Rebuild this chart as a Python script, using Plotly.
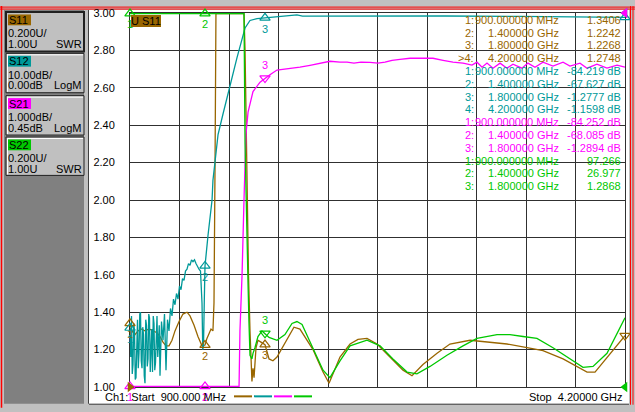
import numpy as np
import plotly.graph_objects as go

# Ch1 sweep and graticule (S11 active: 0.200U/div, ref 1.00U on the bottom line)
f_start, f_stop = 0.9, 4.2          # GHz
swr_div, swr_ref = 0.200, 1.00
n_div = 10
s12_div, s12_ref = 10.00, 0.00      # LogM, dB/div, ref value on the top line
s21_div, s21_ref = 1.000, 0.45

# S11 (SWR)
s11_f = [0.900, 0.913, 0.933, 0.953, 0.973, 1.000, 1.027, 1.053, 1.080, 1.100,
         1.120, 1.140, 1.160, 1.180, 1.200, 1.227, 1.253, 1.280, 1.300, 1.327,
         1.353, 1.380, 1.400, 1.413, 1.427, 1.440, 1.453, 1.460, 1.467, 1.473,
         1.500, 1.600, 1.660, 1.667, 1.680, 1.690, 1.700, 1.707, 1.713, 1.720,
         1.727, 1.740, 1.753, 1.773, 1.800, 1.827, 1.853, 1.880, 1.927, 1.993,
         2.033, 2.120, 2.153, 2.187, 2.227, 2.260, 2.300, 2.367, 2.420, 2.480,
         2.547, 2.633, 2.720, 2.780, 2.853, 2.947, 3.033, 3.167, 3.300, 3.413,
         3.547, 3.653, 3.787, 3.880, 3.947, 4.000, 4.100, 4.200]
s11_swr = [1.3406, 1.30, 1.28, 1.30, 1.31, 1.30, 1.31, 1.30, 1.29, 1.27,
           1.24, 1.22, 1.22, 1.25, 1.30, 1.35, 1.39, 1.40, 1.38, 1.33,
           1.27, 1.22, 1.2242, 1.26, 1.29, 1.31, 1.30, 1.45, 2.20, 3.50,
           5.00, 8.00, 6.00, 2.80, 2.00, 1.60, 1.30, 1.12, 1.03, 1.10,
           1.05, 1.21, 1.25, 1.24, 1.2268, 1.15, 1.14, 1.16, 1.23, 1.32,
           1.31, 1.20, 1.14, 1.08, 1.02, 1.08, 1.16, 1.23, 1.255, 1.26,
           1.23, 1.16, 1.09, 1.06, 1.12, 1.18, 1.23, 1.25, 1.24, 1.23,
           1.21, 1.195, 1.15, 1.11, 1.08, 1.08, 1.18, 1.2748]

# S12 (dB)
s12_f = [0.90, 0.905, 0.91, 0.915, 0.92, 0.925, 0.93, 0.935, 0.94, 0.945,
         0.95, 0.955, 0.96, 0.965, 0.97, 0.975, 0.98, 0.985, 0.99, 0.995,
         1.00, 1.005, 1.01, 1.015, 1.02, 1.025, 1.03, 1.035, 1.04, 1.045,
         1.05, 1.055, 1.06, 1.065, 1.07, 1.075, 1.08, 1.085, 1.09, 1.095,
         1.10, 1.11, 1.12, 1.13, 1.14, 1.15, 1.16, 1.17, 1.18, 1.19,
         1.20, 1.21, 1.22, 1.23, 1.24, 1.25, 1.26, 1.27, 1.28, 1.29,
         1.30, 1.31, 1.32, 1.33, 1.34, 1.35, 1.36, 1.37,
         1.38, 1.385, 1.39, 1.395, 1.40,
         1.42, 1.433, 1.447, 1.453, 1.467, 1.48, 1.487,
         1.52, 1.567, 1.613, 1.647, 1.667, 1.70, 1.747, 1.80,
         1.90, 1.967, 2.013, 2.05, 2.5, 3.0, 3.5, 4.0, 4.2]
s12_db = [-84.219, -92.0, -81.0, -96.5, -94.0, -83.0, -85.0, -98.0, -97.5, -82.5,
          -82.0, -95.0, -91.0, -80.5, -80.0, -93.0, -95.0, -84.0, -86.0, -97.0,
          -99.0, -82.0, -83.5, -94.5, -92.5, -80.5, -81.5, -96.0, -90.0, -84.5,
          -96.0, -81.0, -83.0, -95.5, -93.5, -82.0, -81.0, -92.0, -89.0, -83.5,
          -97.0, -82.5, -87.5, -80.5, -95.5, -82.0, -85.0, -79.0, -81.0, -76.5,
          -78.0, -75.0, -76.5, -73.0, -74.0, -71.0, -71.5, -69.0, -68.5, -67.0,
          -67.5, -66.0, -66.5, -66.0, -67.0, -68.0, -68.5, -69.0,
          -77.5, -90.0, -89.0, -77.5, -67.627,
          -59.5, -54.25, -50.0, -44.75, -40.25, -35.0, -32.5,
          -27.0, -19.2, -12.0, -7.0, -4.0, -2.0, -1.5, -1.2777,
          -1.0, -0.75, -0.5, -0.85, -0.75, -0.8, -0.9, -1.0, -1.1598]

# S21 (dB)
s21_f = [0.90, 1.00, 1.10, 1.20, 1.30, 1.40, 1.50, 1.58, 1.62, 1.627,
         1.633, 1.647, 1.66, 1.667, 1.673, 1.687, 1.72, 1.767, 1.80, 1.833,
         1.88, 1.933, 1.987, 2.033, 2.10, 2.167, 2.233, 2.30, 2.347, 2.393,
         2.44, 2.50, 2.553, 2.60, 2.647, 2.70, 2.767, 2.833, 2.92, 2.987,
         3.053, 3.12, 3.18, 3.213, 3.247, 3.28, 3.32, 3.367, 3.413, 3.453,
         3.513, 3.553, 3.60, 3.653, 3.72, 3.787, 3.833, 3.90, 3.947, 4.013,
         4.08, 4.147, 4.20]
s21_db = [-84.252, -80.0, -76.0, -72.5, -70.0, -68.085, -52.0, -28.0, -12.0, -9.55,
          -8.05, -6.55, -4.55, -3.55, -2.8, -2.2, -1.65, -1.40, -1.2894, -1.20,
          -1.075, -1.05, -1.025, -1.0, -0.95, -0.89, -0.84, -0.865, -0.865, -0.89,
          -0.865, -0.87, -0.89, -0.865, -0.815, -0.79, -0.76, -0.76, -0.76, -0.815,
          -0.865, -0.89, -0.945, -0.865, -1.0, -0.89, -1.025, -0.89, -1.025, -0.92,
          -1.025, -0.89, -1.0, -0.865, -0.97, -0.865, -0.97, -0.89, -1.025, -0.92,
          -1.025, -0.945, -1.0]

# S22 (SWR)
s22_f = [0.90, 1.40, 1.60, 1.66, 1.667, 1.673, 1.680, 1.687, 1.693, 1.700,
         1.713, 1.720, 1.733, 1.753, 1.780, 1.800, 1.827, 1.880, 1.933, 1.980,
         2.013, 2.047, 2.120, 2.187, 2.233, 2.300, 2.367, 2.480, 2.567, 2.653,
         2.747, 2.813, 2.900, 3.013, 3.120, 3.213, 3.347, 3.433, 3.520, 3.613,
         3.720, 3.833, 3.920, 3.987, 4.080, 4.200]
s22_swr = [97.266, 26.977, 12.0, 5.0, 2.30, 2.00, 1.75, 1.55, 1.35, 1.17,
           1.15, 1.18, 1.21, 1.27, 1.30, 1.2868, 1.265, 1.25, 1.28, 1.34,
           1.35, 1.335, 1.205, 1.09, 1.05, 1.14, 1.22, 1.25, 1.22, 1.15,
           1.08, 1.07, 1.11, 1.17, 1.22, 1.26, 1.28, 1.28, 1.27, 1.26,
           1.21, 1.15, 1.105, 1.11, 1.18, 1.37]

# marker readouts
mk_f = [0.9, 1.4, 1.8, 4.2]
s11_mk = [1.3406, 1.2242, 1.2268, 1.2748]
s12_mk = [-84.219, -67.627, -1.2777, -1.1598]
s21_mk = [-84.252, -68.085, -1.2894]
s22_mk = [97.266, 26.977, 1.2868]

c11, c12, c21, c22 = "#996600", "#009999", "#ff00ff", "#00c800"
FONT = "Liberation Sans, Arial, sans-serif"
grid = "#303030"

top = swr_ref + n_div * swr_div


def logm(db, per_div, ref):
    # LogM trace placed on the shared graticule, ref value on the top line
    return top + (np.asarray(db, dtype=float) - ref) / per_div * swr_div


def clamp(v):
    # the analyzer pins off-scale data to the graticule edge
    return np.clip(np.asarray(v, dtype=float), swr_ref + 0.003, top - 0.003)


# pixel helpers for the instrument frame around the plot
L, R, T, B = 130, 625, 7, 387


def px(x):
    return (x - L) / (R - L)


def py(y):
    return (B - y) / (B - T)


shapes = []
annotations = []


def rect(x0, y0, x1, y1, fill, line="rgba(0,0,0,0)", lw=0, layer="below"):
    shapes.append(dict(type="rect", xref="paper", yref="paper", x0=px(x0), x1=px(x1),
                       y0=py(y1), y1=py(y0), fillcolor=fill, line=dict(color=line, width=lw),
                       layer=layer))


def hline(x0, x1, y, color, w=1, layer="below"):
    shapes.append(dict(type="line", xref="paper", yref="paper", x0=px(x0), x1=px(x1),
                       y0=py(y), y1=py(y), line=dict(color=color, width=w), layer=layer))


def vline(x, y0, y1, color, w=1, layer="below"):
    shapes.append(dict(type="line", xref="paper", yref="paper", x0=px(x), x1=px(x),
                       y0=py(y0), y1=py(y1), line=dict(color=color, width=w), layer=layer))


def note(x, y, text, color="black", anchor="left", size=11, bg="rgba(0,0,0,0)"):
    annotations.append(dict(xref="paper", yref="paper", x=px(x), y=py(y), text=text,
                            showarrow=False, xanchor=anchor, yanchor="middle",
                            font=dict(family=FONT, size=size, color=color),
                            bgcolor=bg, borderpad=0, borderwidth=0))


# window frame
rect(4, 4, 84, 404, "#808080")
rect(89, 4, 629, 404, "white")
vline(88.5, 4, 404, "#404040")
hline(89, 629, 404.5, "#404040")
hline(0, 635, 1, "red")
hline(0, 635, 3, "red")
vline(1.5, 0, 408, "red", 1.5)
vline(630.5, 0, 405, "red")
vline(633, 0, 405, "red")

# channel buttons
buttons = [
    ("S11", c11, f"{swr_div:.3f}U/", f"{swr_ref:.2f}U", "SWR", 6, 46),
    ("S12", c12, f"{s12_div:.2f}dB/", f"{s12_ref:.2f}dB", "LogM", 48, 88),
    ("S21", c21, f"{s21_div:.3f}dB/", f"{s21_ref:.2f}dB", "LogM", 91, 131),
    ("S22", c22, f"{swr_div:.3f}U/", f"{swr_ref:.2f}U", "SWR", 133, 172),
]
for i, (name, col, l1, l2, fmt, y0, y1) in enumerate(buttons):
    rect(6, y0, 84, y1, "#c0c0c0", "#202020", 2 if i == 0 else 1)
    if i > 0:
        hline(7, 83, y0 + 1.5, "white")
        vline(7.5, y0 + 1, y1 - 1, "white")
    rect(8, y0 + 2.5, 31, y0 + 13.5, col)
    note(8.5, y0 + 8, name)
    note(8, y0 + 21.5, l1)
    note(8, y0 + 32.5, l2)
    note(82, y0 + 32.5, fmt, anchor="right")

# status line
note(105, 397, f"Ch1: Start\u00a0\u00a0{f_start * 1000:.3f} MHz")
note(623, 397, f"Stop\u00a0\u00a0{f_stop:.5f} GHz", anchor="right")
for (x0, x1), col in zip([(234, 252), (254, 272), (274, 292), (294, 312)], [c11, c12, c21, c22]):
    hline(x0, x1, 396.5, col, 2, layer="above")

# active trace tag
note(131, 15.5, "U S11", bg=c11)


# marker table
def fmt_f(f):
    return f"{f * 1000:.6f} MHz" if f < 1 else f"{f:.6f} GHz"


row = 0
for name, col, vals, unit in [("S11", c11, s11_mk, ""), ("S12", c12, s12_mk, " dB"),
                              ("S21", c21, s21_mk, " dB"), ("S22", c22, s22_mk, "")]:
    for i, v in enumerate(vals):
        y = 14 + 13 * row
        idx = f">{i + 1}:" if (name == "S11" and i == 3) else f"{i + 1}:"
        note(474, y, idx, col, "right", 11)
        note(559, y, fmt_f(mk_f[i]), col, "right", 11)
        note(621, y, f"{v:#.5g}{unit}", col, "right", 11)
        row += 1

fig = go.Figure()

# data traces, S22 drawn last like the analyzer
for f, v, col in [(s11_f, clamp(s11_swr), c11),
                  (s12_f, clamp(logm(s12_db, s12_div, s12_ref)), c12),
                  (s21_f, clamp(logm(s21_db, s21_div, s21_ref)), c21),
                  (s22_f, clamp(s22_swr), c22)]:
    fig.add_trace(go.Scatter(x=f, y=v, mode="lines", line=dict(color=col, width=1.3),
                             hoverinfo="skip"))


def add_markers(vals, col, symbols, positions, n_lab=3):
    labels = [str(i + 1) if i < n_lab else "" for i in range(len(vals))]
    fig.add_trace(go.Scatter(x=mk_f[:len(vals)], y=vals, mode="markers+text", text=labels,
                             textposition=positions, cliponaxis=False, hoverinfo="skip",
                             marker=dict(symbol=symbols, size=9, color=col,
                                         line=dict(color=col, width=1.2)),
                             textfont=dict(family=FONT, size=11, color=col)))


up, dn = "triangle-up-open", "triangle-down-open"
add_markers(clamp(s11_mk), c11, [up, up, up, dn], ["bottom center"] * 4)
add_markers(clamp(logm(s12_mk, s12_div, s12_ref)), c12, [up] * 4, ["bottom center"] * 4)
add_markers(clamp(logm(s21_mk, s21_div, s21_ref)), c21, [up, up, dn],
            ["bottom center", "bottom center", "top center"])
add_markers(clamp(s22_mk), c22, [up, up, dn], ["bottom center", "bottom center", "top center"])

# reference position arrows
for x, y, sym, col in [(f_start, swr_ref, "triangle-right", c11),
                       (f_stop, swr_ref, "triangle-left", c22),
                       (f_stop, top, "triangle-left", c12),
                       (f_stop, top, "triangle-left", c21)]:
    fig.add_trace(go.Scatter(x=[x], y=[y], mode="markers", cliponaxis=False, hoverinfo="skip",
                             marker=dict(symbol=sym, size=9, color=col)))

axis = dict(showgrid=True, gridcolor=grid, gridwidth=1, showline=True, linecolor=grid,
            linewidth=1, mirror=True, zeroline=False, layer="below traces", fixedrange=True)
fig.update_xaxes(range=[f_start, f_stop], tick0=f_start, dtick=(f_stop - f_start) / n_div,
                 showticklabels=False, ticks="", **axis)
fig.update_yaxes(range=[swr_ref, top], tick0=swr_ref, dtick=swr_div, tickformat=".2f",
                 ticks="", ticklabelstandoff=12, tickfont=dict(family=FONT, size=11, color="black"),
                 **axis)
fig.update_layout(width=635, height=412, margin=dict(l=L, r=635 - R, t=T, b=412 - B, pad=0),
                  paper_bgcolor="#c0c0c0", plot_bgcolor="rgba(0,0,0,0)", showlegend=False,
                  font=dict(family=FONT, size=11, color="black"),
                  shapes=shapes, annotations=annotations)

fig.write_html("out.html", config={"displayModeBar": False},
               post_script="document.body.style.margin='0';")
